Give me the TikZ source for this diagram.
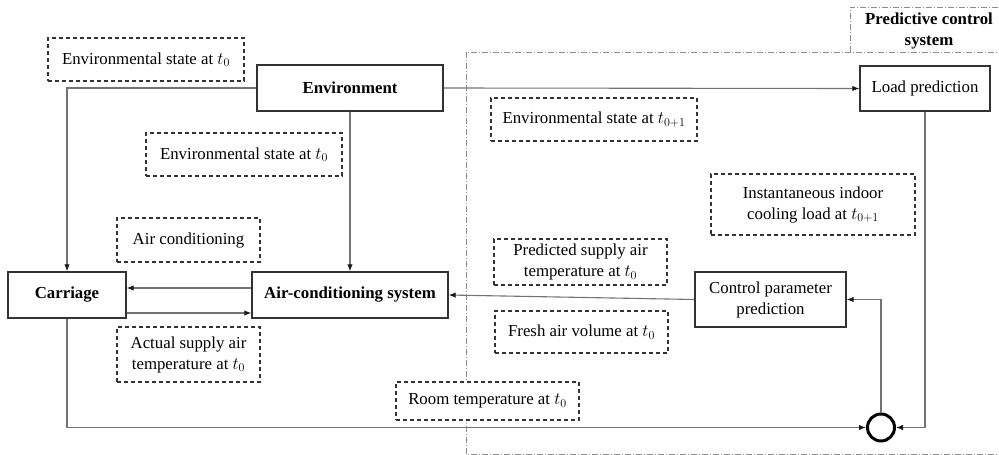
\documentclass[tikz,border=0pt]{standalone}
\usepackage{fontspec}
\setmainfont{Liberation Serif}
\usetikzlibrary{arrows.meta}
\begin{document}
\begin{tikzpicture}[x=1pt,y=-1pt,
  font=\fontsize{16.8}{21}\selectfont,
  solidbox/.style={draw=black!80,line width=1.4pt,fill=white,align=center,inner sep=0pt},
  dbox/.style={draw=black!80,line width=1.2pt,dash pattern=on 4pt off 3pt,fill=white,align=center,inner sep=0pt},
  frameline/.style={draw=black!45,line width=0.8pt,dash pattern=on 6pt off 2pt on 1pt off 2pt},
  conn/.style={draw=black!55,line width=1.1pt,-{Latex[length=7pt,width=5.5pt,color=black!90]}},
  sumnode/.style={circle,draw=black,line width=3pt,minimum size=27pt,inner sep=0pt}]
\clip (0,0) rectangle (999,455);
\fill[white] (0,0) rectangle (999,455);
% predictive control system frame
\draw[frameline] (466,52) rectangle (1010,454);
\draw[frameline] (850,52) -- (850,7) -- (1010,7);
\node[font=\fontsize{16.8}{21}\selectfont\bfseries,align=center] (title) at (929,31) {Predictive control\\system};
% main blocks
\node[solidbox,minimum width=186pt,minimum height=46pt,font=\fontsize{16.8}{21}\selectfont\bfseries] (env) at (350,88) {Environment};
\node[solidbox,minimum width=118pt,minimum height=46pt,font=\fontsize{16.8}{21}\selectfont\bfseries] (carriage) at (67,295) {Carriage};
\node[solidbox,minimum width=196pt,minimum height=46pt,font=\fontsize{16.8}{21}\selectfont\bfseries] (ac) at (350,295) {Air-conditioning system};
\node[solidbox,minimum width=130pt,minimum height=45pt] (load) at (925,88.5) {Load prediction};
\node[solidbox,minimum width=151pt,minimum height=55pt] (ctrl) at (770.5,299.5) {Control parameter\\prediction};
\node[sumnode] (sum) at (881,427.5) {};
% dashed labels
\node[dbox,minimum width=196pt,minimum height=43pt] (envS1) at (146,59.5) {Environmental state at $t_0$};
\node[dbox,minimum width=196pt,minimum height=43pt] (envS2) at (244,154.5) {Environmental state at $t_0$};
\node[dbox,minimum width=143pt,minimum height=44pt] (aircond) at (188.5,240) {Air conditioning};
\node[dbox,minimum width=143pt,minimum height=55pt] (actual) at (188.5,354.5) {Actual supply air\\temperature at $t_0$};
\node[dbox,minimum width=206pt,minimum height=43pt] (envS3) at (594,119.5) {Environmental state at $t_{0+1}$};
\node[dbox,minimum width=204pt,minimum height=61pt] (inst) at (813,204.5) {Instantaneous indoor\\cooling load at $t_{0+1}$};
\node[dbox,minimum width=173pt,minimum height=46pt] (pred) at (580.5,262) {Predicted supply air\\temperature at $t_0$};
\node[dbox,minimum width=173pt,minimum height=42pt] (fresh) at (581.5,332) {Fresh air volume at $t_0$};
\node[dbox,minimum width=183pt,minimum height=38pt] (room) at (487.5,401) {Room temperature at $t_0$};
% connectors
\draw[conn] (env.west) -| (carriage.north);
\draw[conn] (env.east) -- (load.west);
\draw[conn] (env.south) -- (ac.north);
\draw[conn] ([yshift=7pt]ac.west) -- ([yshift=7pt]carriage.east);
\draw[conn] ([yshift=-18pt]carriage.east) -- ([yshift=-18pt]ac.west);
\draw[conn] (carriage.south) |- (sum.west);
\draw[conn] (load.south) |- (sum.east);
\draw[conn] (sum.north) |- (ctrl.east);
\draw[conn] (ctrl.west) -- (ac.east);
\end{tikzpicture}
\end{document}
